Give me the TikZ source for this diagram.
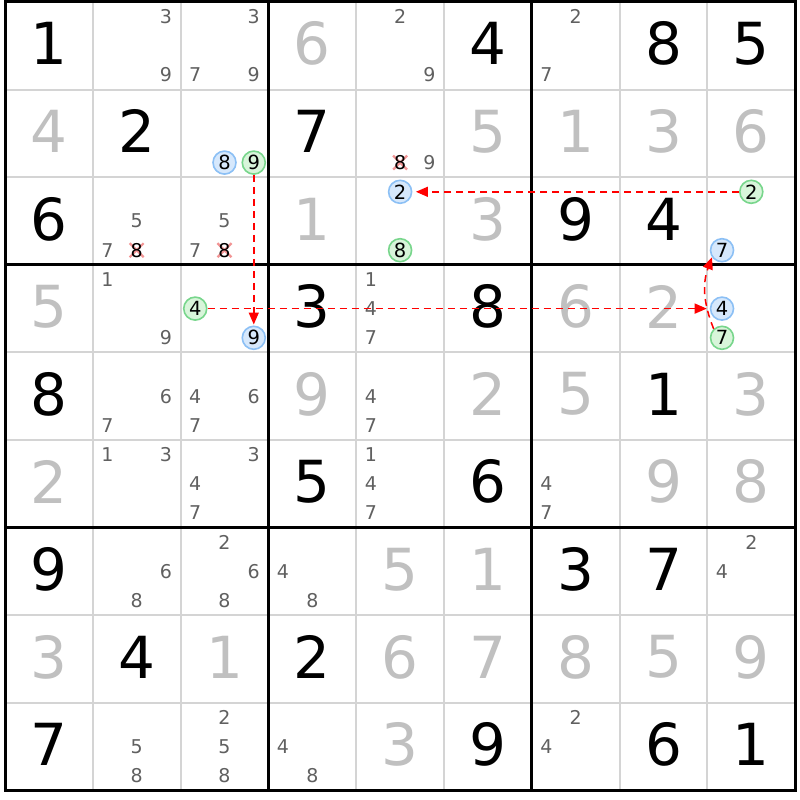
\documentclass[tikz,border=0pt]{standalone}
\usepackage{fontspec}
\setmainfont{DejaVu Sans}
\usetikzlibrary{arrows.meta}
\definecolor{givencol}{RGB}{0,0,0}
\definecolor{solvedcol}{RGB}{192,192,192}
\definecolor{candcol}{RGB}{96,96,96}
\definecolor{thincol}{RGB}{212,212,212}
\definecolor{bluefill}{RGB}{214,232,252}
\definecolor{blueline}{RGB}{140,192,245}
\definecolor{greenfill}{RGB}{216,245,218}
\definecolor{greenline}{RGB}{120,214,140}
\definecolor{crosscol}{RGB}{240,130,130}
\definecolor{arrowcol}{RGB}{255,0,0}
\tikzset{
  bigdigit/.style={inner sep=0pt, font=\fontsize{58}{62}\selectfont},
  givendigit/.style={bigdigit, text=givencol},
  solveddigit/.style={bigdigit, text=solvedcol},
  cand/.style={inner sep=0pt, font=\fontsize{19}{21}\selectfont, text=candcol},
  crossed/.style={inner sep=0pt, font=\fontsize{19}{21}\selectfont, text=black},
  hbase/.style={circle, inner sep=0pt, minimum size=23pt, line width=1.6pt, font=\fontsize{19.5}{21}\selectfont, text=black},
  hblue/.style={hbase, draw=blueline, fill=bluefill},
  hgreen/.style={hbase, draw=greenline, fill=greenfill},
  thinline/.style={draw=thincol, line width=2pt},
  thickline/.style={draw=black, line width=3pt},
  linkarrow/.style={draw=arrowcol, line width=1.5pt, dash pattern=on 7pt off 5pt, -{Triangle[length=12pt,width=10pt]}},
  xmark/.style={draw=crosscol, line width=2.2pt, opacity=0.85}
}
\begin{document}
\begin{tikzpicture}[x=1pt,y=-1pt]
\useasboundingbox (0,0) rectangle (800,800);
\fill[white] (0,0) rectangle (800,800);
\def\cw{87.8}
\def\ch{87.6}
% thin grid lines
\foreach \k in {1,2,4,5,7,8}{
  \draw[thinline] ({5+\cw*\k},2) -- ({5+\cw*\k},{2+9*\ch});
  \draw[thinline] (5,{2+\ch*\k}) -- ({5+9*\cw},{2+\ch*\k});
}
% thick box lines
\foreach \k in {3,6}{
  \draw[thickline] ({5+\cw*\k},2) -- ({5+\cw*\k},{2+9*\ch});
  \draw[thickline] (5,{2+\ch*\k}) -- ({5+9*\cw},{2+\ch*\k});
}
\draw[thickline] (5,2) rectangle ({5+9*\cw},{2+9*\ch});
% given digits
\foreach \r/\c/\d in {0/0/1,0/5/4,0/7/8,0/8/5,1/1/2,1/3/7,2/0/6,2/6/9,2/7/4,3/3/3,3/5/8,4/0/8,4/7/1,5/3/5,5/5/6,6/0/9,6/6/3,6/7/7,7/1/4,7/3/2,8/0/7,8/5/9,8/7/6,8/8/1}{
  \node[givendigit] (gv\r\c) at ({5+\cw*(\c+0.5)},{2+\ch*(\r+0.5)-2}) {\d};
}
% solved digits
\foreach \r/\c/\d in {0/3/6,1/0/4,1/5/5,1/6/1,1/7/3,1/8/6,2/3/1,2/5/3,3/0/5,3/6/6,3/7/2,4/3/9,4/5/2,4/6/5,4/8/3,5/0/2,5/7/9,5/8/8,6/4/5,6/5/1,7/0/3,7/2/1,7/4/6,7/5/7,7/6/8,7/7/5,7/8/9,8/4/3}{
  \node[solveddigit] (sv\r\c) at ({5+\cw*(\c+0.5)},{2+\ch*(\r+0.5)-2}) {\d};
}
% candidates
\foreach \r/\c/\d in {0/1/3,0/1/9,0/2/3,0/2/7,0/2/9,0/4/2,0/4/9,0/6/2,0/6/7,1/4/9,2/1/5,2/1/7,2/2/5,2/2/7,3/1/1,3/1/9,3/4/1,3/4/4,3/4/7,4/1/6,4/1/7,4/2/4,4/2/6,4/2/7,4/4/4,4/4/7,5/1/1,5/1/3,5/2/3,5/2/4,5/2/7,5/4/1,5/4/4,5/4/7,5/6/4,5/6/7,6/1/6,6/1/8,6/2/2,6/2/6,6/2/8,6/3/4,6/3/8,6/8/2,6/8/4,8/1/5,8/1/8,8/2/2,8/2/5,8/2/8,8/3/4,8/3/8,8/6/2,8/6/4}{
  \pgfmathsetmacro\xx{5+\cw*\c+\cw*(2*mod(\d-1,3)+1)/6}
  \pgfmathsetmacro\yy{2+\ch*\r+\ch*(2*int((\d-1)/3)+1)/6}
  \node[cand] (k\r\c\d) at (\xx,\yy) {\d};
}
% crossed-out candidates
\foreach \r/\c/\d in {1/4/8,2/1/8,2/2/8}{
  \pgfmathsetmacro\xx{5+\cw*\c+\cw*(2*mod(\d-1,3)+1)/6}
  \pgfmathsetmacro\yy{2+\ch*\r+\ch*(2*int((\d-1)/3)+1)/6}
  \draw[xmark] (\xx-7,\yy-7) -- (\xx+7,\yy+7) (\xx-7,\yy+7) -- (\xx+7,\yy-7);
  \node[crossed] (x\r\c\d) at (\xx,\yy) {\d};
}
% highlighted candidates
\foreach \r/\c/\d/\s in {1/2/8/hblue,3/2/9/hblue,2/4/2/hblue,2/8/7/hblue,3/8/4/hblue,1/2/9/hgreen,3/2/4/hgreen,2/4/8/hgreen,2/8/2/hgreen,3/8/7/hgreen}{
  \pgfmathsetmacro\xx{5+\cw*\c+\cw*(2*mod(\d-1,3)+1)/6}
  \pgfmathsetmacro\yy{2+\ch*\r+\ch*(2*int((\d-1)/3)+1)/6}
  \node[\s] (h\r\c\d) at (\xx,\yy) {\d};
}
% links
\draw[linkarrow, shorten >=1pt] (h129.south) -- (h329.north);
\draw[linkarrow, shorten >=3pt] (h324.east) -- (h384.west);
\draw[linkarrow, shorten >=3.5pt] (h282.west) -- (h242.east);
\draw[linkarrow] (h387.133) to[out=112,in=250] (h287.215);
\end{tikzpicture}
\end{document}
